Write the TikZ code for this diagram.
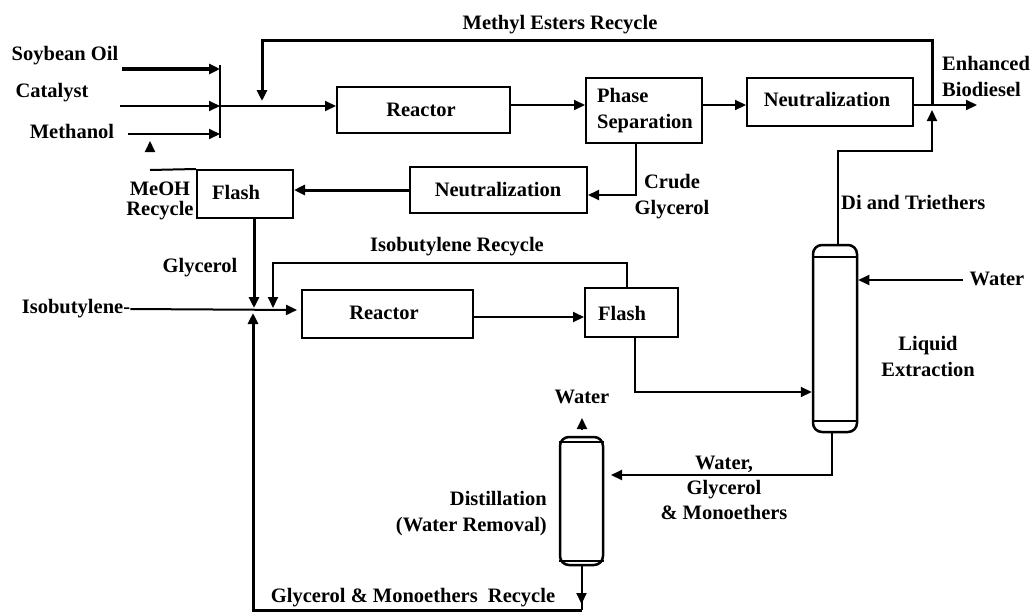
\documentclass[tikz,border=0pt]{standalone}
\usepackage{fontspec}
\setmainfont{Liberation Serif}
\usetikzlibrary{arrows.meta,calc}
\begin{document}
\begin{tikzpicture}[x=1pt,y=-1pt,
  every node/.style={font=\fontsize{20.5}{26}\selectfont\bfseries, inner sep=0pt},
  ln/.style={line width=2pt},
  thk/.style={line width=3pt},
  arr/.style={-{Triangle[length=11pt,width=10pt]}},
  box/.style={draw, line width=2pt},
  column/.style={draw, line width=2.5pt, rounded corners=9pt}]
\fill[white] (0,0) rectangle (1032,613);
\useasboundingbox (0,0) rectangle (1032,613);

% ---------- unit boxes ----------
\node[box, minimum width=173, minimum height=46] (R1) at (423.5,110) {};
\node at (421,110) {Reactor};
\node[box, minimum width=116, minimum height=65] (PS) at (644,110.5) {};
\node[align=left, anchor=west] at (597,110.5) {Phase\\Separation};
\node[box, minimum width=166, minimum height=48] (N1) at (830,102) {};
\node at (827,100) {Neutralization};
\node[box, minimum width=177, minimum height=46] (N2) at (498.5,190) {};
\node at (498,190) {Neutralization};
\node[box, minimum width=96, minimum height=48] (F1) at (245,194) {};
\node at (236,192) {Flash};
\node[box, minimum width=171, minimum height=48] (R2) at (387.5,314) {};
\node at (384,313) {Reactor};
\node[box, minimum width=93, minimum height=49] (F2) at (631.5,312.5) {};
\node at (622,313) {Flash};
\node[column, minimum width=44, minimum height=187] (LE) at (835,338.5) {};
\draw[ln] ($(LE.north west)+(0,13)$) -- ($(LE.north east)+(0,13)$);
\draw[ln] ($(LE.south west)+(0,-12)$) -- ($(LE.south east)+(0,-12)$);
\node[column, minimum width=43, minimum height=128] (DC) at (581.5,501) {};
\draw[ln] ($(DC.north west)+(0,6)$) -- ($(DC.north east)+(0,6)$);
\draw[ln] ($(DC.south west)+(0,-5)$) -- ($(DC.south east)+(0,-5)$);

% ---------- labels ----------
\node (soy) at (65,56) {Soybean Oil};
\node (cat) at (52,93) {Catalyst};
\node (meth) at (72,131) {Methanol};
\node (mer) at (560,25) {Methyl Esters Recycle};
\node[align=left, anchor=west] (eb) at (942,76.5) {Enhanced\\Biodiesel};
\node[align=center] (cgl) at (672,196.5) {Crude\\Glycerol};
\node[align=center] (mr) at (160,201) {MeOH\\[-6pt]Recycle};
\node[anchor=west] (dt) at (841,202) {Di and Triethers};
\node (w1) at (997,279) {Water};
\node[align=center] (lex) at (928,356.5) {Liquid\\Extraction};
\node (ibr) at (457,247) {Isobutylene Recycle};
\node (gly) at (200,268) {Glycerol};
\node (iso) at (76,309) {Isobutylene-};
\node (w2) at (582,397) {Water};
\node[align=center] (wgm) at (724,488) {Water,\\[-1pt]Glycerol\\[-1pt]\& Monoethers};
\node[align=right, anchor=east] (dist) at (547,513.5) {Distillation\\(Water Removal)};
\node (gmr) at (413,598) {Glycerol \& Monoethers\ \ Recycle};

% ---------- named points ----------
\coordinate (soyS) at (122,69);  \coordinate (soyT) at (220,69);
\coordinate (catS) at (120,106); \coordinate (catT) at (220,106);
\coordinate (metS) at (128,134); \coordinate (metT) at (220,134);
\coordinate (mixTop) at (220,65); \coordinate (mixBot) at (220,138);
\coordinate (y105) at (0,105);
\coordinate (out0) at (932,105); \coordinate (bio) at (977,105);
\coordinate (rcA) at (932,40); \coordinate (rcB) at (262,40); \coordinate (rcC) at (262,101);
\coordinate (dtA) at (932,151); \coordinate (dtB) at (932,110);
\coordinate (mrA) at (150,170); \coordinate (mrB) at (150,151); \coordinate (mrC) at (150,141);
\coordinate (gA) at (254,308);
\coordinate (isoT) at (297,310);
\coordinate (ibA) at (273,263); \coordinate (ibB) at (273,308);
\coordinate (wIn) at (963,280);
\coordinate (leOutT) at (611,475);
\coordinate (wUpA) at (582,429); \coordinate (wUpB) at (582,418);
\coordinate (dcArr) at (581.5,604);
\coordinate (botR) at (581.5,610); \coordinate (botL) at (253,610); \coordinate (gUp) at (253,313);

% ---------- feeds and mixer ----------
\draw[line width=3.5pt, arr] (soyS) -- (soyT);
\draw[ln, arr] (catS) -- (catT);
\draw[ln, arr] (metS) -- (metT);
\draw[ln] (mixTop) -- (mixBot);
\draw[ln, arr] (catT) -- (R1.west |- catT);

% ---------- main line ----------
\draw[ln, arr] (R1.east |- y105) -- (PS.west |- y105);
\draw[ln, arr] (PS.east |- y105) -- (N1.west |- y105);
\draw[ln, arr] (N1.east |- y105) -- (bio);
\draw[thk, arr] (out0) -- (rcA) -- (rcB) -- (rcC);

% ---------- crude glycerol / methanol recovery ----------
\draw[ln, arr] ($(PS.south)+(-8,0)$) |- ($(N2.east)+(0,5)$);
\draw[thk, arr] (N2.west) -- (F1.east |- N2.west);
\draw[ln] (F1.north west) -- (mrA);
\draw[ln, arr] (mrB) -- (mrC);

% ---------- etherification ----------
\draw[thk, arr] ($(F1.south)+(9,0)$) -- (gA);
\draw[ln, arr] (iso.east) -- (isoT);
\draw[ln, arr] ($(F2.north)+(-4.5,0)$) |- (ibA) -- (ibB);
\draw[ln, arr] ($(R2.east)+(0,3)$) -- ($(F2.west)+(0,4.5)$);
\draw[ln, arr] ($(F2.south)+(3.5,0)$) |- ($(LE.west)+(0,53.5)$);

% ---------- extraction ----------
\draw[ln, arr] (wIn) -- (LE.east |- wIn);
\draw[ln, arr] ($(LE.north)+(3,0)$) |- (dtA) -- (dtB);
\draw[ln, arr] ($(LE.south)+(-3,0)$) |- (leOutT);

% ---------- distillation ----------
\draw[ln, arr] (wUpA) -- (wUpB);
\draw[thk, arr] (botR) -- (botL) -- (gUp);
\draw[ln] (DC.south) -- (botR);
\draw[ln, arr] (DC.south) -- (dcArr);
\end{tikzpicture}
\end{document}
